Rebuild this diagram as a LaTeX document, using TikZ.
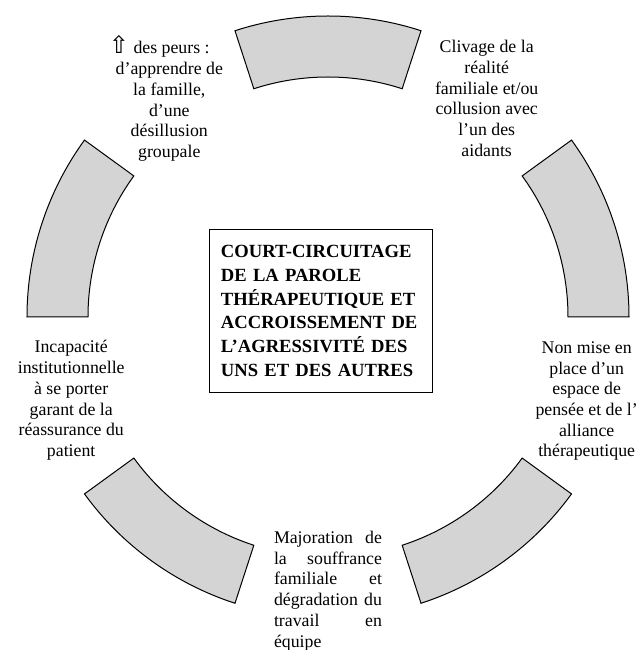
\documentclass[tikz,border=0pt]{standalone}
\usepackage{fontspec}
\setmainfont{Liberation Serif}
\newfontfamily\arrowfont{DejaVu Sans}
\usepackage{xcolor}
\usepackage{tikz}
\usetikzlibrary{positioning}
\setlength{\parindent}{0pt}
\definecolor{ink}{HTML}{000000}
\definecolor{ringgray}{HTML}{D4D4D4}
\tikzset{
  x=1pt,y=1pt,
  segment/.style={draw=ink,line width=1pt,fill=ringgray,line join=miter},
  stage/.style={align=center,inner sep=0pt,font=\fontsize{17.8}{20.7}\selectfont},
  core/.style={draw=ink,line width=1pt,align=left,text width=200pt,inner xsep=11pt,
               minimum height=162pt,font=\bfseries\fontsize{18.6}{23.7}\selectfont}
}

\begin{document}
\begin{tikzpicture}
  \useasboundingbox (-328,-333) rectangle (313,317);
  \foreach \a in {0,72,...,288}
    \draw[segment] (\a:240) arc[start angle=\a,end angle=\a+36,radius=240]
      -- (\a+36:301) arc[start angle=\a+36,end angle=\a,radius=301] -- cycle;
  \node[core] (court) at (-7,6) {COURT-CIRCUITAGE\\DE LA PAROLE\\THÉRAPEUTIQUE ET\\ACCROISSEMENT DE\\L’AGRESSIVITÉ DES\\UNS ET DES AUTRES};
  \node[stage] (clivage) at (54:270) {Clivage de la\\réalité\\familiale et/ou\\collusion avec\\l’un des\\aidants};
  \node[stage] (peurs) at (126:270) {{\arrowfont\fontsize{24}{20.7}\selectfont ⇧} des peurs :\hspace*{20pt}\\d’apprendre de\\la famille,\\d’une\\désillusion\\groupale};
  \node[stage] (incapacite) at (198:270) {Incapacité\\institutionnelle\\à se porter\\garant de la\\réassurance du\\patient};
  \node[stage,text width=108pt,align=justify] (majoration) at (270:274) {Majoration de\linebreak la souffrance\linebreak familiale et\linebreak dégradation du\linebreak travail en\linebreak équipe};
  \node[stage] (alliance) at (342:272) {Non mise en\\place d’un\\espace de\\pensée et de l’\\alliance\\thérapeutique};
\end{tikzpicture}
\end{document}
